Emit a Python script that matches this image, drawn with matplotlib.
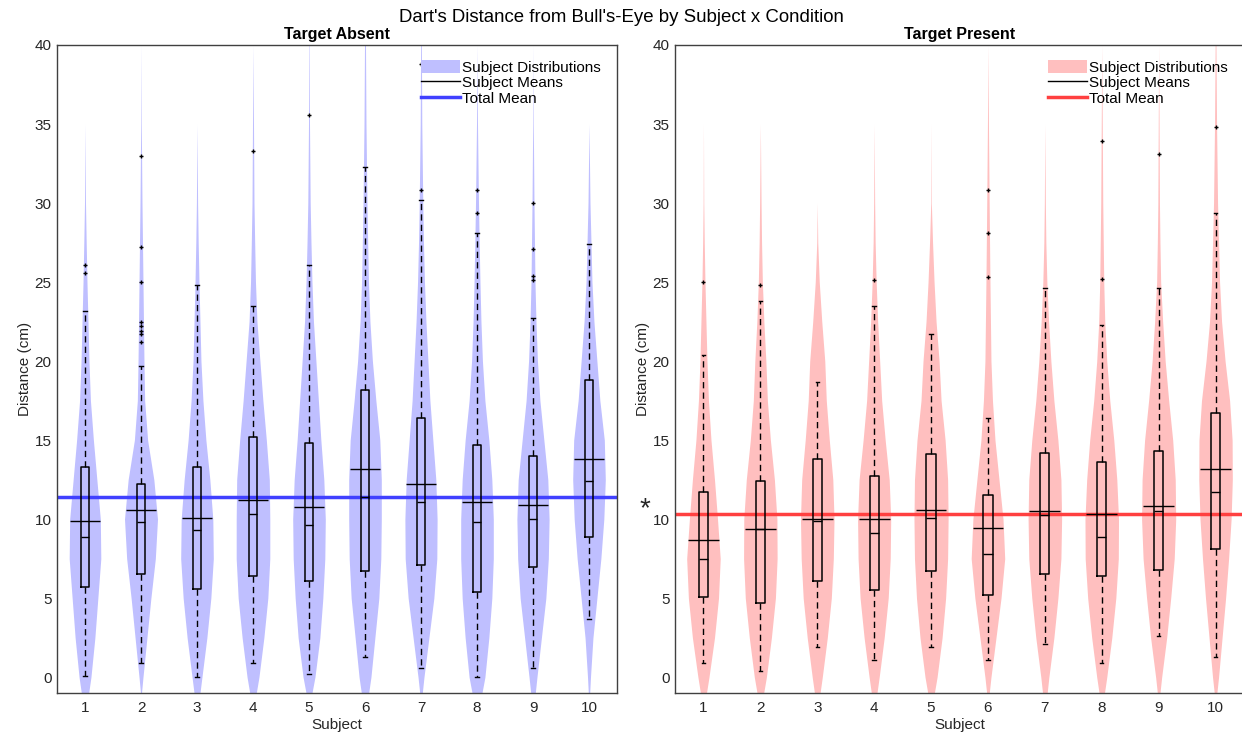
import numpy as np
import matplotlib
matplotlib.use("Agg")
import matplotlib.pyplot as plt
from matplotlib.patches import Patch
from matplotlib.lines import Line2D
from matplotlib.transforms import blended_transform_factory

plt.rcParams['font.family'] = ['Liberation Sans', 'DejaVu Sans']

subjects = np.arange(1, 11)

# violin outline: relative density read at these distances (cm)
density_levels = [-1, 0, 2.5, 5, 7.5, 10, 12.5, 15, 17.5, 20, 22.5, 25, 27.5, 30, 35, 40]

# ---- Target Absent ----
absent_density = [
    [3.7, 6, 10, 13, 16, 15.5, 12, 8.5, 5.5, 4, 3, 2, 1.2, 0.5, 0, 0],
    [0.5, 2, 6, 10, 14.5, 16.7, 13, 6.7, 3.7, 3, 2.5, 2, 1.5, 1, 0.3, 0],
    [3, 5, 10, 14, 16.5, 16, 13, 9, 6, 4, 3, 2, 1.2, 0.6, 0, 0],
    [3.3, 6, 11, 15, 17, 17, 16.5, 13.5, 10, 7, 4, 2.5, 1.7, 1, 0.5, 0],
    [3, 6, 11, 14, 16, 16.5, 15, 12, 9.5, 7, 4.5, 3, 2, 1.2, 0.5, 0.2],
    [3.7, 6, 10, 14, 16, 16.5, 16.5, 15, 11, 7.5, 5, 3.5, 2.7, 2, 1, 0.5],
    [1.3, 3, 8, 13, 16, 16.3, 15, 12, 9, 7, 5, 3.5, 2.5, 1.8, 0.8, 0.4],
    [5, 8, 12, 15, 16.5, 16.5, 15, 12, 8, 5.5, 4, 3, 2.2, 1.5, 0.5, 0],
    [2.3, 4, 8.5, 13, 15.5, 16.3, 15, 11, 7, 4.5, 3, 2, 1.5, 1, 0.3, 0],
    [0.7, 1.5, 4, 8, 12, 15, 16.5, 15.5, 11, 8, 5, 3, 2, 1, 0, 0],
]
absent_q1 = [5.7, 6.5, 5.6, 6.4, 6.1, 6.7, 7.1, 5.4, 7.0, 8.9]
absent_med = [8.9, 9.8, 9.3, 10.3, 9.6, 11.4, 11.1, 9.8, 10.0, 12.4]
absent_q3 = [13.3, 12.2, 13.3, 15.2, 14.8, 18.2, 16.4, 14.7, 14.0, 18.8]
absent_wlo = [0.1, 0.9, 0.0, 0.9, 0.2, 1.3, 0.6, 0.0, 0.6, 3.7]
absent_whi = [23.2, 19.7, 24.8, 23.5, 26.1, 32.3, 30.2, 28.1, 22.7, 27.4]
absent_mean = [9.9, 10.6, 10.1, 11.2, 10.8, 13.2, 12.2, 11.1, 10.9, 13.8]
absent_fliers = [
    [25.6, 26.1],
    [21.2, 21.7, 21.9, 22.2, 22.5, 25.0, 27.2, 33.0],
    [],
    [33.3],
    [35.6],
    [],
    [30.8, 38.8],
    [29.4, 30.8],
    [25.1, 25.4, 27.1, 30.0],
    [],
]
absent_total_mean = 11.4

# ---- Target Present ----
present_density = [
    [3, 5.5, 11, 15, 16.7, 14, 11, 7.5, 5, 3.5, 2.5, 1.5, 0.8, 0.3, 0, 0],
    [3.3, 6, 11, 15, 16.7, 16.5, 14, 10, 7, 5.5, 3.5, 2, 1.2, 0.7, 0, 0],
    [2.8, 5, 10, 14, 16, 16.7, 15.5, 12, 9, 7.5, 4.5, 2, 0.5, 0, 0, 0],
    [2.8, 5, 10, 14, 16, 16.5, 15, 11, 7.5, 5.5, 3.5, 2, 1, 0.5, 0, 0],
    [3.3, 6, 11, 14.5, 16.5, 17, 16.5, 14, 10, 8, 5, 3, 1.5, 0.3, 0, 0],
    [1.3, 3, 8, 13, 16.7, 15, 11, 7, 4.5, 3, 2.5, 2, 1.6, 1.2, 0.5, 0],
    [2.3, 4, 9, 13, 16, 16.7, 16, 13, 9, 6, 3.7, 2, 1, 0.5, 0, 0],
    [2.7, 5, 10, 14, 16.5, 16.7, 15, 12, 8, 5, 3, 2, 1.5, 1, 0.5, 0],
    [1.3, 3, 8, 12, 15.5, 17, 16.5, 14, 10, 6.5, 4, 2, 1.3, 0.8, 0.4, 0],
    [1.3, 3, 6.5, 10, 13, 15.5, 16.7, 16.5, 14, 9.5, 6, 4, 3, 2, 1, 0.4],
]
present_q1 = [5.1, 4.7, 6.1, 5.5, 6.7, 5.2, 6.5, 6.4, 6.8, 8.1]
present_med = [7.5, 9.35, 9.9, 9.1, 10.1, 7.8, 10.25, 8.9, 10.5, 11.7]
present_q3 = [11.7, 12.4, 13.8, 12.7, 14.1, 11.5, 14.2, 13.6, 14.3, 16.7]
present_wlo = [0.9, 0.4, 1.9, 1.1, 1.9, 1.1, 2.1, 0.9, 2.6, 1.3]
present_whi = [20.4, 23.8, 18.7, 23.5, 21.7, 16.4, 24.6, 22.3, 24.6, 29.4]
present_mean = [8.7, 9.4, 10.0, 10.0, 10.55, 9.45, 10.5, 10.35, 10.85, 13.2]
present_fliers = [
    [25.0],
    [24.8],
    [],
    [25.1],
    [],
    [25.3, 28.1, 30.8],
    [],
    [25.2, 33.9],
    [33.1],
    [34.8],
]
present_total_mean = 10.3

DENSITY_MAX = 17.0
HALF_WIDTH = 0.30


def draw_panel(ax, title, density, q1, med, q3, wlo, whi, means, fliers,
               total_mean, fill, line):
    dens = np.asarray(density, dtype=float) / DENSITY_MAX * HALF_WIDTH
    for i, s in enumerate(subjects):
        ax.fill_betweenx(density_levels, s - dens[i], s + dens[i],
                         color=fill, lw=0, zorder=1)

    stats = []
    for i in range(len(subjects)):
        stats.append(dict(q1=q1[i], med=med[i], q3=q3[i], whislo=wlo[i],
                          whishi=whi[i], fliers=np.array(fliers[i])))
    ax.bxp(stats, positions=subjects, widths=0.16, capwidths=0.06,
           manage_ticks=False, zorder=3,
           boxprops=dict(color='k', lw=1.1),
           whiskerprops=dict(color='k', lw=1, ls=(0, (4.5, 3))),
           capprops=dict(color='k', lw=1),
           medianprops=dict(color='k', lw=1),
           flierprops=dict(marker='+', ms=3, mec='k', mew=1))
    ax.hlines(means, subjects - 0.27, subjects + 0.27, color='k', lw=1, zorder=4)
    ax.axhline(total_mean, color=line, lw=2.5, zorder=2.5)

    ax.set_xlim(0.5, 10.5)
    ax.set_ylim(-1, 40)
    ax.set_xticks(subjects)
    ax.set_yticks(range(0, 41, 5))
    ax.tick_params(length=0, labelsize=11, colors='#262626')
    ax.tick_params(axis='y', pad=4)
    ax.tick_params(axis='x', pad=6)
    for sp in ax.spines.values():
        sp.set_color('#404040')
        sp.set_linewidth(1)
    ax.set_title(title, fontsize=11.5, fontweight='bold', pad=4)
    ax.set_xlabel('Subject', fontsize=11, color='#262626', labelpad=2)
    ax.set_ylabel('Distance (cm)', fontsize=11, color='#262626', labelpad=2)

    handles = [Patch(facecolor=fill, edgecolor='none'),
               Line2D([], [], color='k', lw=1),
               Line2D([], [], color=line, lw=2.5)]
    ax.legend(handles, ['Subject Distributions', 'Subject Means', 'Total Mean'],
              loc='upper right', frameon=False, fontsize=11, labelspacing=0.05,
              handlelength=2.6, handleheight=0.9, handletextpad=0.1,
              borderaxespad=0.6, bbox_to_anchor=(0.998, 1.0))


fig = plt.figure(figsize=(12.42, 7.35), dpi=100)
ax1 = fig.add_axes([57 / 1242, 42 / 735, 560 / 1242, 648 / 735])
ax2 = fig.add_axes([675 / 1242, 42 / 735, 569 / 1242, 648 / 735])

draw_panel(ax1, 'Target Absent', absent_density, absent_q1, absent_med,
           absent_q3, absent_wlo, absent_whi, absent_mean, absent_fliers,
           absent_total_mean, '#bfbfff', '#4040ff')
draw_panel(ax2, 'Target Present', present_density, present_q1, present_med,
           present_q3, present_wlo, present_whi, present_mean, present_fliers,
           present_total_mean, '#ffbfbf', '#ff4040')

# significance mark next to the total mean
trans = blended_transform_factory(ax2.transAxes, ax2.transData)
ax2.text(-0.053, present_total_mean + 0.3, '*', transform=trans, fontsize=20,
         ha='center', va='center', color='#262626')

fig.suptitle("Dart's Distance from Bull's-Eye by Subject x Condition",
             fontsize=13.4, y=0.988, va='top')

fig.savefig('out.png', dpi=100)
